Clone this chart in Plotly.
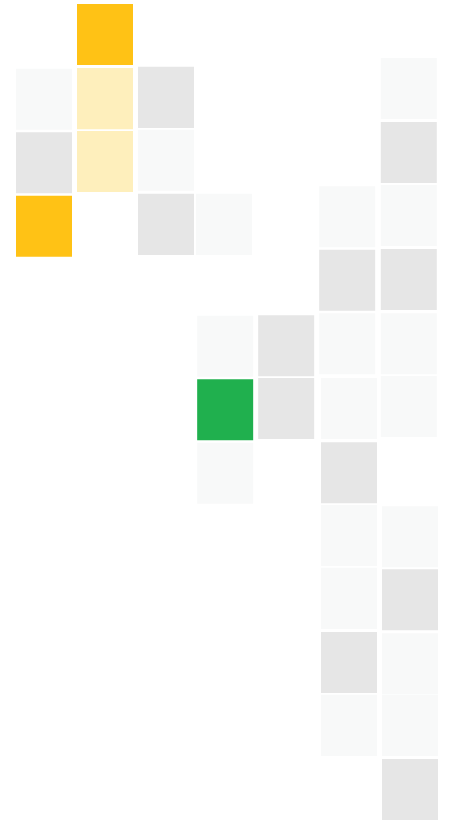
import plotly.graph_objects as go

# Tile grid positions (column, row) and category of each tile
cols = [1, 0, 1, 2, 0, 1, 2, 0, 2, 2.95,
        5.98, 5.98, 5.98, 4.97, 4.97, 5.98,
        2.97, 3.97, 4.97, 5.98, 2.97, 3.97, 5.0, 5.98,
        2.97, 5.0, 5.0, 6.0, 5.0, 6.0, 5.0, 6.0, 5.0, 6.0, 6.0]
rows = [0.0, 1.02, 1.01, 0.99, 2.02, 2.0, 1.98, 3.02, 2.99, 2.99,
        0.85, 1.86, 2.85, 2.87, 3.87, 3.86,
        4.91, 4.90, 4.87, 4.87, 5.91, 5.89, 5.89, 5.86,
        6.91, 6.90, 7.89, 7.91, 8.88, 8.90, 9.89, 9.91, 10.88, 10.88, 11.89]
cats = ["high", "light", "mid", "gray", "gray", "mid", "light", "high", "gray", "light",
        "light", "gray", "light", "light", "gray", "gray",
        "light", "gray", "light", "light", "top", "gray", "light", "light",
        "light", "gray", "light", "light", "light", "gray", "gray", "light", "light", "light", "gray"]

palette = {"high": "#FFC215", "mid": "#FEEFBC", "gray": "#E6E6E6",
           "light": "#F8F9F9", "top": "#20B04E"}

TILE_W = 0.918
TILE_H = 0.961

fig = go.Figure()
fig.add_trace(go.Scatter(x=cols, y=rows, mode="markers",
                         marker=dict(size=1, opacity=0), hoverinfo="skip",
                         showlegend=False))
for c, r, k in zip(cols, rows, cats):
    fig.add_shape(type="rect", xref="x", yref="y",
                  x0=c - TILE_W / 2, x1=c + TILE_W / 2,
                  y0=r - TILE_H / 2, y1=r + TILE_H / 2,
                  fillcolor=palette[k], line=dict(width=0), layer="below")

fig.update_xaxes(range=[-44 / 61, 405 / 61], visible=False, showgrid=False, zeroline=False)
fig.update_yaxes(range=[(823 - 34.5) / 63.5, -34.5 / 63.5], visible=False,
                 showgrid=False, zeroline=False)
fig.update_layout(width=449, height=823, margin=dict(l=0, r=0, t=0, b=0),
                  paper_bgcolor="white", plot_bgcolor="white", showlegend=False)
fig.write_html("out.html", config={"displayModeBar": False},
               post_script="document.body.style.margin='0';document.body.style.overflow='hidden';")
